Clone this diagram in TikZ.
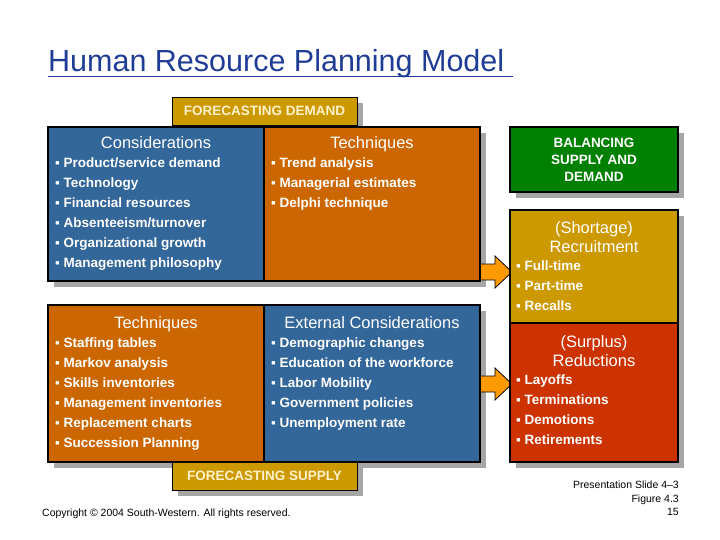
\documentclass[tikz,border=0pt]{standalone}
\usepackage{fontspec}
\setmainfont{Liberation Sans}
\definecolor{cblue}{HTML}{336699}
\definecolor{corange}{HTML}{CC6600}
\definecolor{cgold}{HTML}{CC9900}
\definecolor{cgreen}{HTML}{008000}
\definecolor{cred}{HTML}{CC3300}
\definecolor{ctitle}{HTML}{1F3C96}
\definecolor{cpale}{HTML}{FFF2CC}
\definecolor{cshadow}{HTML}{A6A6A6}
\definecolor{carrow}{HTML}{FF9900}
\tikzset{
 panel/.style={draw=black,line width=1.2pt,anchor=north west,inner sep=0pt},
 head/.style={text=white,font=\fontsize{16.5}{18}\selectfont,anchor=north},
 items/.style={text=white,font=\bfseries\fontsize{13.5}{20}\selectfont,align=left,anchor=north west,inner sep=0pt},
 tag/.style={fill=cgold,draw=black,line width=0.6pt,text=cpale,font=\bfseries\fontsize{13.5}{14}\selectfont},
 harrowpath/.style={draw=black,fill=carrow,line width=0.8pt,line join=miter}
}
\begin{document}
\begin{tikzpicture}[x=1pt,y=-1pt]
\useasboundingbox (0,0) rectangle (720,540);
% shadows
\fill[cshadow] (54,133) rectangle (486,287);
\fill[cshadow] (54,311) rectangle (486,468);
\fill[cshadow] (178,103) rectangle (363,131);
\fill[cshadow] (178,468) rectangle (363,496);
\fill[cshadow] (516,133) rectangle (684,198);
\fill[cshadow] (516,216) rectangle (684,468);
% title
\node[anchor=base west,text=ctitle,font=\fontsize{30.5}{32}\selectfont,inner sep=0pt] (title) at (48,72) {Human Resource Planning Model};
\draw[ctitle,line width=1pt] (48,77) -- (513,77);
% arrows
\coordinate (a1) at (478,256);
\coordinate (a2) at (478,368);
\foreach \a in {a1,a2}
 \draw[harrowpath] ([yshift=-8pt]\a) -- ++(17,0) -- ++(0,-8) -- ++(17,16) -- ++(-17,16) -- ++(0,-8) -- ++(-17,0) -- cycle;
% top panels
\draw[panel,fill=cblue] (48,127) rectangle (264,281);
\draw[panel,fill=corange] (264,127) rectangle (480,281);
\node[tag,minimum width=185pt,minimum height=28pt] (fd) at (264.5,111) {FORECASTING DEMAND};
\node[head] (c1) at (156,133) {Considerations};
\node[items] (c1i) at (55,158) {▪ Product/service demand\\▪ Technology\\▪ Financial resources\\▪ Absenteeism/turnover\\▪ Organizational growth\\▪ Management philosophy};
\node[head] (t1) at (372,133) {Techniques};
\node[items] (t1i) at (271,158) {▪ Trend analysis\\▪ Managerial estimates\\▪ Delphi technique};
% bottom panels
\draw[panel,fill=corange] (48,305) rectangle (264,462);
\draw[panel,fill=cblue] (264,305) rectangle (480,462);
\node[head] (t2) at (156,313) {Techniques};
\node[items] (t2i) at (55,338) {▪ Staffing tables\\▪ Markov analysis\\▪ Skills inventories\\▪ Management inventories\\▪ Replacement charts\\▪ Succession Planning};
\node[head] (e2) at (372,313) {External Considerations};
\node[items] (e2i) at (271,338) {▪ Demographic changes\\▪ Education of the workforce\\▪ Labor Mobility\\▪ Government policies\\▪ Unemployment rate};
\node[tag,minimum width=185pt,minimum height=28pt] (fs) at (264.5,476) {FORECASTING SUPPLY};
% right column
\node[panel,fill=cgreen,minimum width=168pt,minimum height=65pt,anchor=center,text=white,font=\bfseries\fontsize{13.5}{17}\selectfont,align=center] (bal) at (594,159.5) {BALANCING\\SUPPLY AND\\DEMAND};
\draw[panel,fill=cgold] (510,210) rectangle (678,323);
\draw[panel,fill=cred] (510,323) rectangle (678,462);
\node[head,align=center,font=\fontsize{16.5}{19}\selectfont] (sh) at (594,218) {(Shortage)\\Recruitment};
\node[items] (shi) at (516,261) {▪ Full-time\\▪ Part-time\\▪ Recalls};
\node[head,align=center,font=\fontsize{16.5}{19}\selectfont] (su) at (594,332) {(Surplus)\\Reductions};
\node[items] (sui) at (516,375) {▪ Layoffs\\▪ Terminations\\▪ Demotions\\▪ Retirements};
% footer
\node[anchor=base west,font=\fontsize{10.5}{12}\selectfont,inner sep=0pt] (copy) at (42,516) {Copyright © 2004 South-Western. All rights reserved.};
\node[anchor=north east,align=right,font=\fontsize{10.5}{13.5}\selectfont,inner sep=0pt] (pres) at (679,481) {Presentation Slide 4–3\\Figure 4.3\\15};
\end{tikzpicture}
\end{document}
